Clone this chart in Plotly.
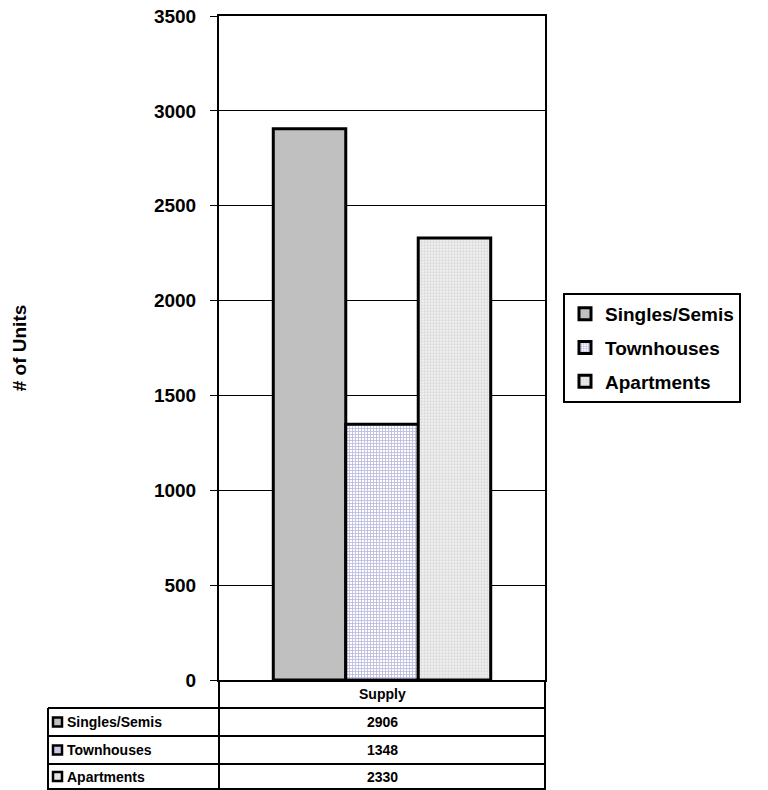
import plotly.graph_objects as go

# Housing supply by dwelling type
category = ["Supply"]
series_names = ["Singles/Semis", "Townhouses", "Apartments"]
singles = [2906]
townhouses = [1348]
apartments = [2330]
y_ticks = [0, 500, 1000, 1500, 2000, 2500, 3000, 3500]

W, H = 768, 790
FONT = "Liberation Sans, Arial, sans-serif"


def px_x(x):
    return x / W


def px_y(y):
    return 1 - y / H


styles = [
    dict(color="#c0c0c0", pattern=dict(shape="")),
    dict(color="#ffffff", pattern=dict(shape="+", fgcolor="#7c7cc0", bgcolor="#ffffff", size=3, solidity=0.5)),
    dict(color="#ececec", pattern=dict(shape=".", fgcolor="#c4c4c4", bgcolor="#f0f0f0", size=3, solidity=0.45)),
]
icon_fill = ["#c0c0c0", "#c8c8ec", "#e4e4e4"]

fig = go.Figure()
for i, (name, vals) in enumerate(zip(series_names, [singles, townhouses, apartments])):
    fig.add_trace(go.Bar(
        x=category, y=vals, name=name, legendgroup=name,
        marker=dict(color=styles[i]["color"], pattern=styles[i]["pattern"],
                    line=dict(color="black", width=3)),
    ))

plot_l, plot_r, plot_t, plot_b = 219, 545, 16, 680

fig.update_layout(
    width=W, height=H,
    margin=dict(l=0, r=0, t=0, b=0, autoexpand=False),
    paper_bgcolor="white", plot_bgcolor="white",
    barmode="group", bargap=0.333, bargroupgap=0,
    font=dict(family=FONT, color="black"),
    xaxis=dict(domain=[px_x(plot_l), px_x(plot_r)], showticklabels=False, ticks="",
               showline=True, linecolor="black", linewidth=2, mirror=True,
               showgrid=False, zeroline=False, automargin=False),
    yaxis=dict(domain=[px_y(plot_b), px_y(plot_t)], range=[0, 3500], tickvals=y_ticks,
               ticks="outside", ticklen=7, tickcolor="black", tickwidth=1,
               tickfont=dict(size=19, family=FONT, weight="bold"),
               ticklabelstandoff=10, automargin=False,
               showline=True, linecolor="black", linewidth=2, mirror=True,
               showgrid=True, gridcolor="black", gridwidth=1, zeroline=False,
               title=dict(text="# of Units", font=dict(size=19, family=FONT, weight="bold"),
                          standoff=122)),
    legend=dict(x=px_x(563), y=px_y(293), xanchor="left", yanchor="top",
                bordercolor="black", borderwidth=2, bgcolor="white",
                font=dict(size=19, family=FONT, weight="bold"),
                traceorder="grouped", tracegroupgap=6),
    showlegend=True,
)

# Data table beneath the plot
line = dict(color="black", width=2)
table_left, table_right = 48, plot_r
row_edges = [680, 708, 736, 764, 789]
shapes = []
for y in row_edges[1:]:
    shapes.append(dict(type="line", xref="paper", yref="paper",
                       x0=px_x(table_left), x1=px_x(table_right), y0=px_y(y), y1=px_y(y), line=line))
shapes.append(dict(type="line", xref="paper", yref="paper", x0=px_x(table_left), x1=px_x(table_left),
                   y0=px_y(708), y1=px_y(790), line=line))
for x in (plot_l, table_right):
    shapes.append(dict(type="line", xref="paper", yref="paper", x0=px_x(x), x1=px_x(x),
                       y0=px_y(680), y1=px_y(790), line=line))

cell_font = dict(size=14, family=FONT, weight="bold")
annotations = [dict(text="Supply", xref="paper", yref="paper", x=px_x((plot_l + plot_r) / 2),
                    y=px_y(694), xanchor="center", yanchor="middle", showarrow=False, font=cell_font)]
for i, (name, vals) in enumerate(zip(series_names, [singles, townhouses, apartments])):
    yc = (row_edges[i + 1] + row_edges[i + 2]) / 2
    shapes.append(dict(type="rect", xref="paper", yref="paper",
                       x0=px_x(53), x1=px_x(62), y0=px_y(yc - 4.5), y1=px_y(yc + 4.5),
                       fillcolor=icon_fill[i], line=dict(color="black", width=2.5)))
    annotations.append(dict(text=name, xref="paper", yref="paper", x=px_x(65), y=px_y(yc),
                            xanchor="left", yanchor="middle", showarrow=False, font=cell_font))
    annotations.append(dict(text=str(vals[0]), xref="paper", yref="paper",
                            x=px_x((plot_l + plot_r) / 2), y=px_y(yc),
                            xanchor="center", yanchor="middle", showarrow=False, font=cell_font))

fig.update_layout(shapes=shapes, annotations=annotations)
fig.write_html("out.html")
